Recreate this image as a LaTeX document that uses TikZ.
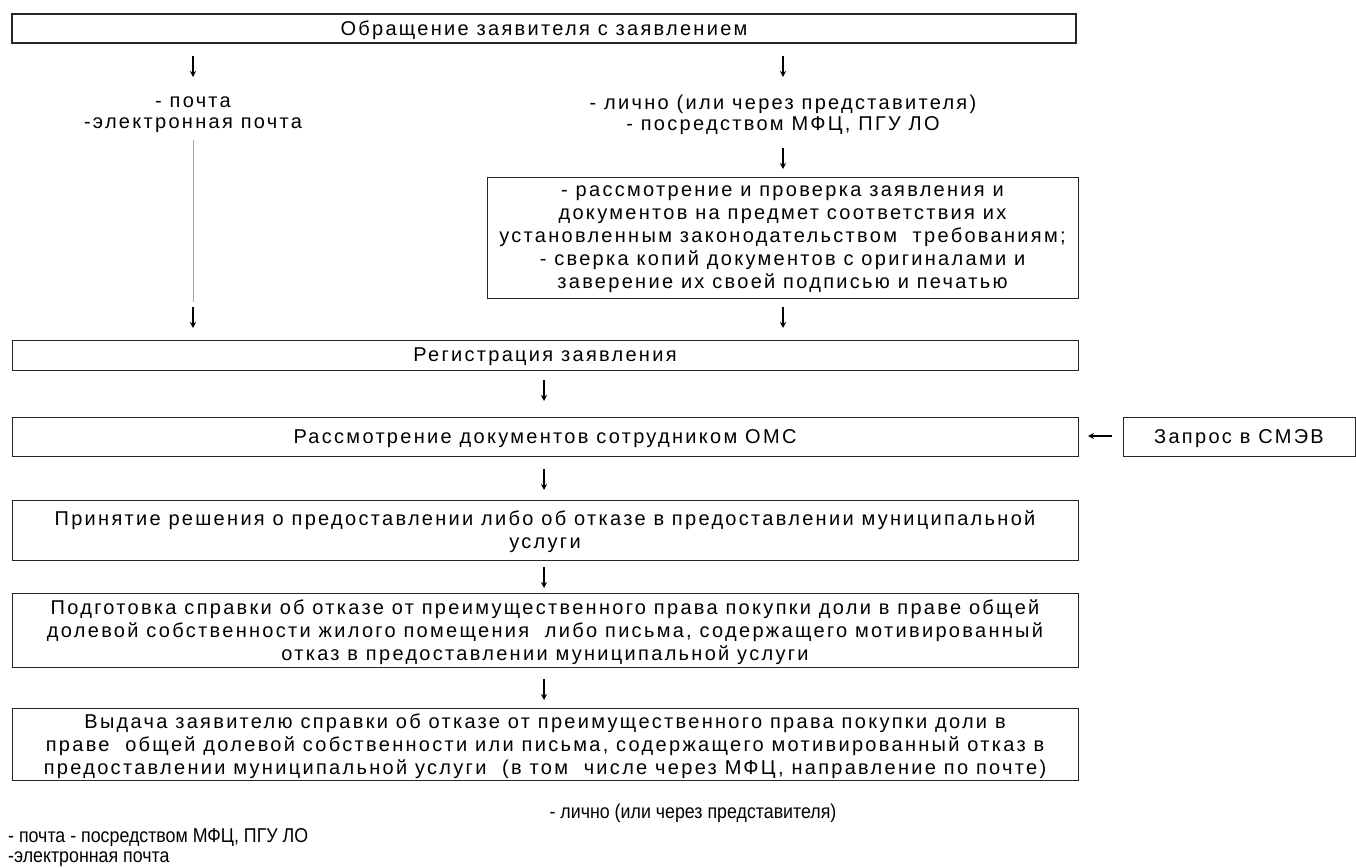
\documentclass[tikz,border=0pt]{standalone}
\usepackage{fontspec}
\setmainfont{Liberation Sans}[LetterSpace=11.5]
\newfontfamily\narrowfont{Liberation Sans}[FakeStretch=0.89]
\usetikzlibrary{arrows.meta}
\tikzset{
  box/.style={draw=black!85, line width=0.9pt, inner sep=0pt, align=center, text depth=0pt, font=\fontsize{20}{23}\selectfont},
  topbox/.style={box, line width=1.6pt},
  plain/.style={inner sep=0pt, align=center, font=\fontsize{20}{21}\selectfont},
  narrow/.style={inner sep=0pt, anchor=west, font=\narrowfont\fontsize{20}{21}\selectfont},
  darr/.style={line width=1.3pt, -{Stealth[length=6pt,width=6pt]}},
  grayline/.style={draw=black!35, line width=0.9pt}
}
\begin{document}
\begin{tikzpicture}[x=1pt,y=-1pt]
\useasboundingbox (0,0) rectangle (1356,867);
% boxes
\node[topbox, minimum width=1064pt, minimum height=29pt] (top) at (544,28.5) {Обращение заявителя с заявлением};
\node[plain] (mail) at (193,115) {- почта\\-электронная почта};
\node[plain] (pers) at (783,115) {- лично (или через представителя)\\- посредством МФЦ, ПГУ ЛО};
\node[box, minimum width=591pt, minimum height=121pt] (check) at (782.5,237.5) {- рассмотрение и проверка заявления и\\документов на предмет соответствия их\\установленным законодательством\ \ требованиям;\\- сверка копий документов с оригиналами и\\заверение их своей подписью и печатью};
\node[box, minimum width=1066pt, minimum height=30pt] (reg) at (545,355) {Регистрация заявления};
\node[box, minimum width=1066pt, minimum height=39pt] (review) at (545,437) {Рассмотрение документов сотрудником ОМС};
\node[box, minimum width=232pt, minimum height=39pt] (smev) at (1239,437) {Запрос в СМЭВ};
\node[box, minimum width=1066pt, minimum height=60pt] (decision) at (545,530) {Принятие решения о предоставлении либо об отказе в предоставлении муниципальной\\услуги};
\node[box, minimum width=1066pt, minimum height=74pt] (prep) at (545,630) {Подготовка справки об отказе от преимущественного права покупки доли в праве общей\\долевой собственности жилого помещения\ \ либо письма, содержащего мотивированный\\отказ в предоставлении муниципальной услуги};
\node[box, minimum width=1066pt, minimum height=72pt] (issue) at (545,744) {Выдача заявителю справки об отказе от преимущественного права покупки доли в\\праве\ \ общей долевой собственности или письма, содержащего мотивированный отказ в\\предоставлении муниципальной услуги\ \ (в том\ \ числе через МФЦ, направление по почте)};
% bottom texts
\node[inner sep=0pt, font=\narrowfont\fontsize{20}{21}\selectfont] (b1) at (693,813) {- лично (или через представителя)};
\node[narrow] (b2) at (8,838) {- почта - посредством МФЦ, ПГУ ЛО};
\node[narrow] (b3) at (8,859) {-электронная почта};
% arrow coordinates
\coordinate (a1s) at (193,56); \coordinate (a1e) at (193,77);
\coordinate (a2s) at (783,56); \coordinate (a2e) at (783,77);
\coordinate (a3s) at (783,148); \coordinate (a3e) at (783,169);
\coordinate (a4s) at (193,307); \coordinate (a4e) at (193,328);
\coordinate (a5s) at (783,307); \coordinate (a5e) at (783,328);
\coordinate (a6s) at (544,380); \coordinate (a6e) at (544,401);
\coordinate (a7s) at (1112,436); \coordinate (a7e) at (1088,436);
\coordinate (a8s) at (544,469); \coordinate (a8e) at (544,490);
\coordinate (a9s) at (544,567); \coordinate (a9e) at (544,588);
\coordinate (a10s) at (544,679); \coordinate (a10e) at (544,700);
\coordinate (g1) at (193,140); \coordinate (g2) at (193,302);
\draw[grayline] (g1) -- (g2);
\foreach \i in {1,...,10} {\draw[darr] (a\i s) -- (a\i e);}
\end{tikzpicture}
\end{document}
